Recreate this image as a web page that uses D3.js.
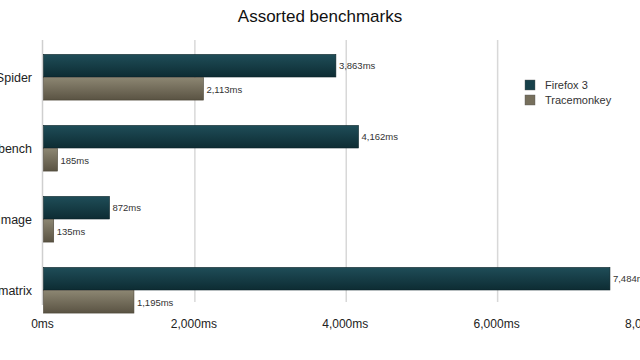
<!DOCTYPE html>
<html>
  <head>
    <style>
      body { margin: 0; background: #fff; }
      svg { display: block; font-family: "Liberation Sans", Arial, sans-serif; }
      .chart-title { font-size: 17px; text-anchor: middle; fill: #111; }
      .cat-label { font-size: 12.5px; fill: #222; text-anchor: end; }
      .val-label { font-size: 9.5px; fill: #333; }
      .tick-label { font-size: 12px; fill: #222; text-anchor: middle; }
      .legend-text { font-size: 11px; fill: #333; }
      .grid { stroke: #d8d8d8; stroke-width: 1.5; }
    </style>
  </head>
  <body>
    <script src="https://d3js.org/d3.v7.min.js"></script>
    <svg></svg>
    <script>
      // chart data
      const categories = ["SunSpider", "Microbench", "Image", "matrix"];
      const seriesNames = ["Firefox 3", "Tracemonkey"];
      const firefox3 = [3863, 4162, 872, 7484];
      const tracemonkey = [2113, 185, 135, 1195];
      const xTicks = [0, 2000, 4000, 6000, 8000];

      const width = 640, height = 360;
      const svg = d3.select("svg").attr("width", width).attr("height", height);

      // gradients for the glossy bars
      const defs = svg.append("defs");
      function addGrad(id, top, bottom) {
        const g = defs.append("linearGradient").attr("id", id)
          .attr("x1", 0).attr("y1", 0).attr("x2", 0).attr("y2", 1);
        g.append("stop").attr("offset", "0%").attr("stop-color", top);
        g.append("stop").attr("offset", "100%").attr("stop-color", bottom);
      }
      addGrad("g0", "#1f4d58", "#0d2c33");
      addGrad("g1", "#8c8672", "#5a5343");
      const colors = ["#17404a", "#766f5c"];

      const x = d3.scaleLinear().domain([0, 8000]).range([43.5, 649]);
      const y = d3.scaleBand().domain(categories).range([42, 326])
        .paddingInner(0.35).paddingOuter(0.175);
      const y1 = d3.scaleBand().domain(seriesNames).range([0, y.bandwidth()]);

      // title
      svg.append("text").attr("class", "chart-title")
        .attr("x", 320).attr("y", 22).text("Assorted benchmarks");

      // gridlines + tick labels
      svg.selectAll(".grid").data(xTicks.slice(1)).enter().append("line")
        .attr("class", "grid")
        .attr("x1", d => x(d)).attr("x2", d => x(d))
        .attr("y1", 40).attr("y2", 302);
      svg.append("line").attr("x1", x(0) - 1).attr("x2", x(0) - 1)
        .attr("y1", 40).attr("y2", 305)
        .attr("stroke", "#cfcfcf").attr("stroke-width", 1.5);
      svg.selectAll(".tick-label").data(xTicks).enter().append("text")
        .attr("class", "tick-label")
        .attr("x", d => x(d) - 1).attr("y", 328)
        .text(d => d3.format(",")(d) + "ms");

      // category labels
      svg.selectAll(".cat-label").data(categories).enter().append("text")
        .attr("class", "cat-label")
        .attr("x", 32).attr("y", d => y(d) + y.bandwidth() / 2 + 4)
        .text(d => d);

      // bars
      const rows = categories.map((c, i) => ({
        cat: c,
        vals: [firefox3[i], tracemonkey[i]]
      }));
      const grp = svg.selectAll(".grp").data(rows).enter().append("g")
        .attr("transform", d => `translate(0,${y(d.cat)})`);
      grp.selectAll("rect").data(d => d.vals.map((v, j) => ({ v, j }))).enter()
        .append("rect")
        .attr("x", x(0))
        .attr("y", d => y1(seriesNames[d.j]))
        .attr("width", d => x(d.v) - x(0))
        .attr("height", y1.bandwidth() - 0.5)
        .attr("fill", d => `url(#g${d.j})`)
        .attr("stroke", d => d.j ? "#4a4436" : "#0a2328")
        .attr("stroke-width", 0.6);
      grp.selectAll(".val-label").data(d => d.vals.map((v, j) => ({ v, j }))).enter()
        .append("text").attr("class", "val-label")
        .attr("x", d => x(d.v) + 3)
        .attr("y", d => y1(seriesNames[d.j]) + y1.bandwidth() / 2 + 3.5)
        .text(d => d3.format(",")(d.v) + "ms");

      // legend
      const lg = svg.append("g").attr("transform", "translate(525,80)");
      seriesNames.forEach((s, i) => {
        lg.append("rect").attr("x", 0).attr("y", i * 15)
          .attr("width", 10).attr("height", 10)
          .attr("fill", colors[i]).attr("stroke", "#555").attr("stroke-width", 0.4);
        lg.append("text").attr("class", "legend-text")
          .attr("x", 20).attr("y", i * 15 + 9).text(s);
      });
    </script>
  </body>
</html>
